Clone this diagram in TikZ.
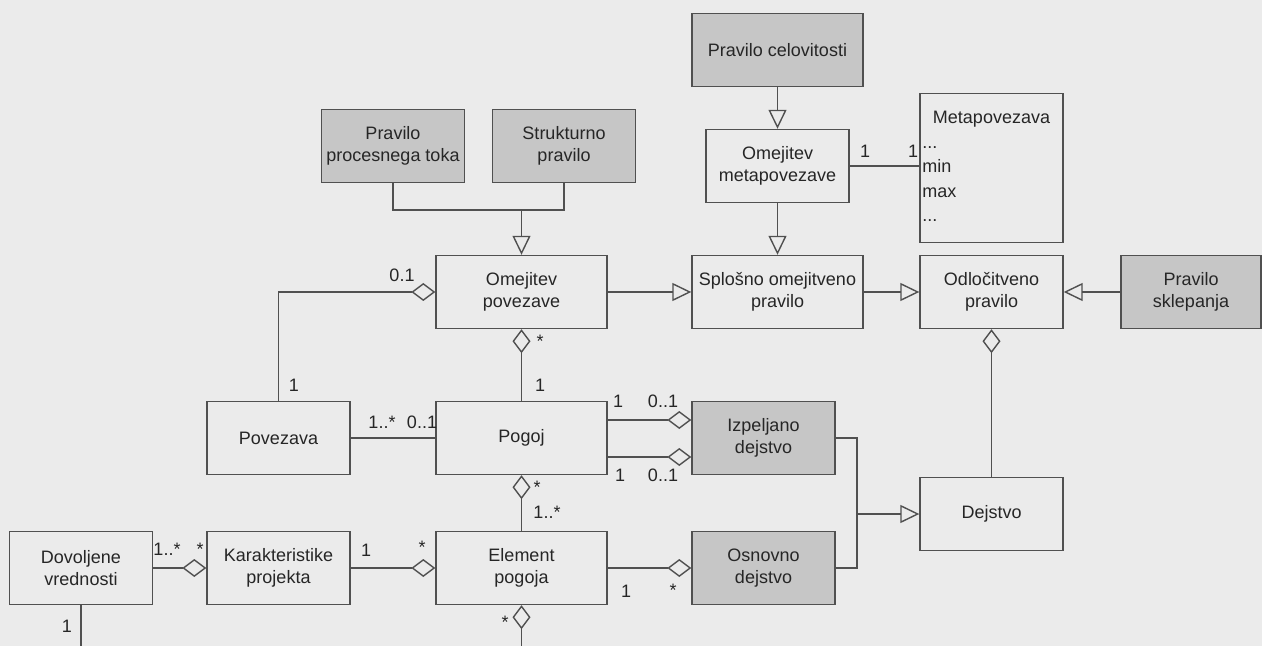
\documentclass[tikz,border=0pt]{standalone}
\usepackage{fontspec}
\setmainfont{Liberation Sans}
\usetikzlibrary{arrows.meta}
\definecolor{paper}{HTML}{EBEBEB}
\definecolor{shade}{HTML}{C6C6C6}
\definecolor{ink}{HTML}{505050}
\definecolor{lettering}{HTML}{262626}
\newcommand{\umlfont}{\fontsize{9}{11}\selectfont}
\newcommand{\tdots}{...}
\begin{document}
\begin{tikzpicture}[x=0.5pt, y=-0.5pt,
  cls/.style={draw=ink, fill=paper, line width=0.7pt, align=center, font=\umlfont, text=lettering, minimum height=36.5pt, inner sep=1pt},
  narrow/.style={cls, minimum width=71.5pt},
  wide/.style={cls, minimum width=85.5pt},
  grey/.style={fill=shade},
  conn/.style={draw=ink, line width=0.7pt},
  gen/.style={conn, -{Triangle[open, length=9.5pt, width=9pt]}},
  agg/.style={conn, -{Diamond[open, length=12pt, width=9pt]}},
  mult/.style={font=\umlfont, text=lettering, anchor=base, inner sep=0pt}]
\fill[paper] (0,0) rectangle (1262,646);
\useasboundingbox (0,0) rectangle (1262,646);
% classes
\node[narrow, grey] (ppt) at (393,146) {Pravilo\\procesnega toka};
\node[narrow, grey] (spr) at (564,146) {Strukturno\\pravilo};
\node[wide, grey] (pce) at (777.5,50) {Pravilo celovitosti};
\node[narrow] (omp) at (777.5,166) {Omejitev\\metapovezave};
\node[narrow, minimum height=74.5pt] (mpv) at (991.5,168) {};
\node[mult] (mpt) at (991.5,124) {Metapovezava};
\foreach \a/\b [count=\i] in {\tdots/148.5, min/173, max/197.5, \tdots/222}
  \node[mult, anchor=base west] (mpa\i) at (922,\b) {\a};
\node[wide] (opv) at (521.5,292) {Omejitev\\povezave};
\node[wide] (sop) at (777.5,292) {Splošno omejitveno\\pravilo};
\node[narrow] (odp) at (991.5,292) {Odločitveno\\pravilo};
\node[narrow, grey, minimum width=70pt] (psk) at (1191,292) {Pravilo\\sklepanja};
\node[narrow] (pov) at (278.5,438) {Povezava};
\node[wide] (pog) at (521.5,438) {Pogoj};
\node[narrow, grey] (izd) at (763.5,438) {Izpeljano\\dejstvo};
\node[narrow] (dej) at (991.5,514) {Dejstvo};
\node[narrow] (dov) at (81,568) {Dovoljene\\vrednosti};
\node[narrow] (kar) at (278.5,568) {Karakteristike\\projekta};
\node[wide] (elp) at (521.5,568) {Element\\pogoja};
\node[narrow, grey] (osd) at (763.5,568) {Osnovno\\dejstvo};
% generalizations
\coordinate (tjn) at (521.5,210);
\draw[conn] (ppt.south) |- (tjn) -| (spr.south);
\draw[gen] (tjn) -- (opv.north);
\draw[gen] (pce.south) -- (omp.north);
\draw[gen] (omp.south) -- (sop.north);
\draw[gen] (opv.east) -- (sop.west);
\draw[gen] (sop.east) -- (odp.west);
\draw[gen] (psk.west) -- (odp.east);
\coordinate (djn) at (857,514);
\draw[conn] (izd.east) -| (djn) |- (osd.east);
\draw[gen] (djn) -- (dej.west);
% associations
\draw[conn] (omp.east) -- (omp.east -| mpv.west);
\draw[conn] (pov.east) -- (pog.west);
\draw[agg] (pov.north) |- (opv.west);
\draw[agg] (pog.north) -- (opv.south);
\draw[agg] (pog.east |- 0,420) -- (izd.west |- 0,420);
\draw[agg] (pog.east |- 0,457) -- (izd.west |- 0,457);
\draw[agg] (elp.north) -- (pog.south);
\draw[agg] (dej.north) -- (odp.south);
\draw[agg] (elp.east) -- (osd.west);
\draw[agg] (kar.east) -- (elp.west);
\draw[agg] (dov.east) -- (kar.west);
\coordinate (dend) at (81,646);
\draw[conn] (dov.south) -- (dend);
\coordinate (eend) at (521.5,646);
\draw[agg] (eend) -- (elp.south);
% multiplicities
\node[mult] (m1) at (402,282) {0.1};
\node[mult] (m2) at (294,391) {1};
\node[mult] (m3) at (540,348) {*};
\node[mult] (m4) at (540,391) {1};
\node[mult] (m5) at (382,428) {1..*};
\node[mult] (m6) at (422,428) {0..1};
\node[mult] (m7) at (865,158) {1};
\node[mult] (m8) at (913,158) {1};
\node[mult] (m9) at (618,407) {1};
\node[mult] (m10) at (663,407) {0..1};
\node[mult] (m11) at (620,481) {1};
\node[mult] (m12) at (663,481) {0..1};
\node[mult] (m13) at (537,493) {*};
\node[mult] (m14) at (547,518) {1..*};
\node[mult] (m15) at (167,555) {1..*};
\node[mult] (m16) at (200,555) {*};
\node[mult] (m17) at (366,556) {1};
\node[mult] (m18) at (422,553) {*};
\node[mult] (m19) at (626,597) {1};
\node[mult] (m20) at (673,596) {*};
\node[mult] (m21) at (505,628) {*};
\node[mult] (m22) at (67,632) {1};
\end{tikzpicture}
\end{document}
